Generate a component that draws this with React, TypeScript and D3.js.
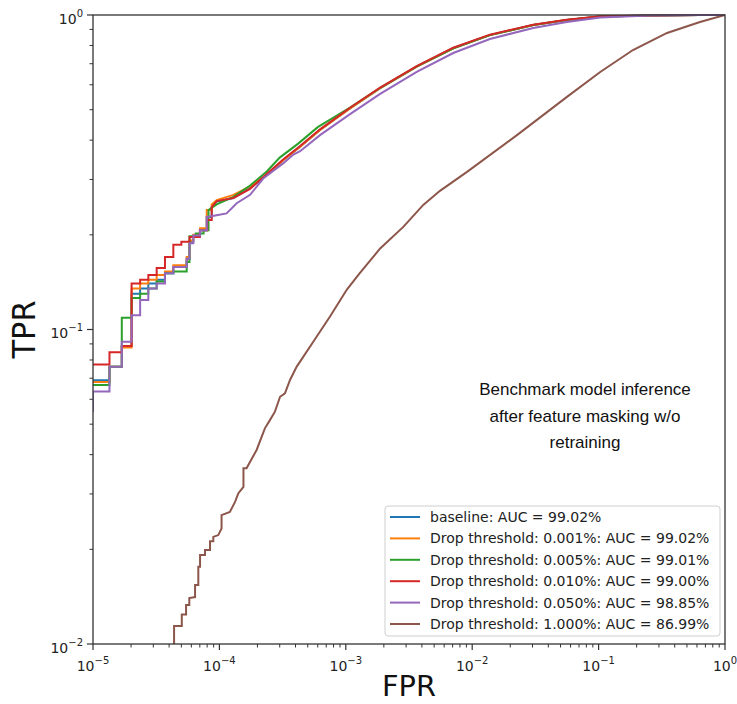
import React from "react";
import * as d3 from "d3";

const W = 737;
const H = 704;
const M = { left: 93, right: 725, top: 15, bottom: 644 };

const seriesNames = [
  "baseline: AUC = 99.02%",
  "Drop threshold: 0.001%: AUC = 99.02%",
  "Drop threshold: 0.005%: AUC = 99.01%",
  "Drop threshold: 0.010%: AUC = 99.00%",
  "Drop threshold: 0.050%: AUC = 98.85%",
  "Drop threshold: 1.000%: AUC = 86.99%",
];
const seriesColors = ["#1f77b4", "#ff7f0e", "#2ca02c", "#d62728", "#9467bd", "#8c564b"];

const upperMain: [number, number][] = [
  [2.37e-4, 0.31], [3.21e-4, 0.346], [4.35e-4, 0.381], [6.25e-4, 0.431], [1.08e-3, 0.505],
  [1.87e-3, 0.585], [3.64e-3, 0.685], [7.08e-3, 0.784], [1.38e-2, 0.863], [3.04e-2, 0.929],
  [5.6e-2, 0.964], [0.103, 0.989], [0.255, 0.997], [0.634, 1.0], [1.0, 1.0],
];

const baseline: [number, number][] = [
  [1e-5, 0.069], [1.35e-5, 0.069], [1.35e-5, 0.0762], [1.69e-5, 0.0762], [1.69e-5, 0.0886],
  [2.02e-5, 0.0886], [2.02e-5, 0.13], [2.36e-5, 0.13], [2.36e-5, 0.135], [2.74e-5, 0.135],
  [2.74e-5, 0.14], [3.19e-5, 0.14], [3.19e-5, 0.144], [3.71e-5, 0.144], [3.71e-5, 0.151],
  [4.32e-5, 0.151], [4.32e-5, 0.158], [5.51e-5, 0.158], [5.51e-5, 0.168], [5.8e-5, 0.168],
  [5.8e-5, 0.19], [6.22e-5, 0.19], [6.22e-5, 0.198], [7.03e-5, 0.198], [7.03e-5, 0.207],
  [7.94e-5, 0.207], [7.94e-5, 0.228], [8.69e-5, 0.228], [8.69e-5, 0.245], [9.52e-5, 0.255],
  [1.29e-4, 0.262], [1.75e-4, 0.282],
  ...upperMain,
];

const drop0001: [number, number][] = [
  [1e-5, 0.0681], [1.35e-5, 0.0681], [1.35e-5, 0.0762], [1.69e-5, 0.0762], [1.69e-5, 0.0876],
  [2.02e-5, 0.0876], [2.02e-5, 0.135], [2.36e-5, 0.135], [2.36e-5, 0.14], [2.74e-5, 0.14],
  [2.74e-5, 0.144], [3.19e-5, 0.144], [3.19e-5, 0.149], [3.71e-5, 0.149], [3.71e-5, 0.153],
  [4.32e-5, 0.153], [4.32e-5, 0.16], [5.51e-5, 0.16], [5.51e-5, 0.17], [5.8e-5, 0.17],
  [5.8e-5, 0.192], [6.22e-5, 0.192], [6.22e-5, 0.2], [7.03e-5, 0.2], [7.03e-5, 0.21],
  [7.94e-5, 0.21], [7.94e-5, 0.24], [8.69e-5, 0.24], [8.69e-5, 0.25], [9.52e-5, 0.258],
  [1.29e-4, 0.268], [1.75e-4, 0.285],
  ...upperMain,
];

const drop0005: [number, number][] = [
  [1e-5, 0.0666], [1.35e-5, 0.0666], [1.35e-5, 0.0762], [1.69e-5, 0.0762], [1.69e-5, 0.109],
  [2.02e-5, 0.109], [2.02e-5, 0.126], [2.36e-5, 0.126], [2.36e-5, 0.13], [2.74e-5, 0.13],
  [2.74e-5, 0.135], [3.19e-5, 0.135], [3.19e-5, 0.142], [3.71e-5, 0.142], [3.71e-5, 0.151],
  [4.32e-5, 0.151], [4.32e-5, 0.153], [5.51e-5, 0.153], [5.51e-5, 0.164], [5.8e-5, 0.164],
  [5.8e-5, 0.198], [6.5e-5, 0.198], [6.5e-5, 0.202], [7.5e-5, 0.202], [7.5e-5, 0.207],
  [8.2e-5, 0.207], [8.2e-5, 0.24], [9.52e-5, 0.25], [1.29e-4, 0.264], [1.75e-4, 0.287],
  [2.37e-4, 0.318], [3.0e-4, 0.352], [4.2e-4, 0.39], [6.0e-4, 0.44], [1.08e-3, 0.508],
  [1.87e-3, 0.587], [3.64e-3, 0.686], [7.08e-3, 0.784], [1.38e-2, 0.863], [3.04e-2, 0.929],
  [5.6e-2, 0.964], [0.103, 0.989], [0.255, 0.997], [0.634, 1.0], [1.0, 1.0],
];

const drop0010: [number, number][] = [
  [1e-5, 0.0774], [1.35e-5, 0.0774], [1.35e-5, 0.0846], [1.69e-5, 0.0846], [1.69e-5, 0.0886],
  [2.02e-5, 0.0886], [2.02e-5, 0.14], [2.36e-5, 0.14], [2.36e-5, 0.144], [2.74e-5, 0.144],
  [2.74e-5, 0.149], [3.19e-5, 0.149], [3.19e-5, 0.157], [3.71e-5, 0.157], [3.71e-5, 0.17],
  [4.32e-5, 0.17], [4.32e-5, 0.186], [5.0e-5, 0.186], [5.0e-5, 0.19], [5.8e-5, 0.19],
  [5.8e-5, 0.197], [7.0e-5, 0.197], [7.0e-5, 0.207], [8.0e-5, 0.207], [8.0e-5, 0.223],
  [8.69e-5, 0.223], [8.69e-5, 0.245], [9.52e-5, 0.256], [1.29e-4, 0.262], [1.75e-4, 0.28],
  [2.37e-4, 0.312], [3.21e-4, 0.348], [4.35e-4, 0.383], [6.25e-4, 0.433], [1.08e-3, 0.507],
  [1.87e-3, 0.588], [3.64e-3, 0.688], [7.08e-3, 0.787], [1.38e-2, 0.866], [3.04e-2, 0.931],
  [5.6e-2, 0.966], [0.103, 0.99], [0.255, 0.997], [0.634, 1.0], [1.0, 1.0],
];

const drop0050: [number, number][] = [
  [1e-5, 0.0547], [1e-5, 0.0635], [1.35e-5, 0.0635], [1.35e-5, 0.0762], [1.69e-5, 0.0762],
  [1.69e-5, 0.0914], [2.02e-5, 0.0914], [2.02e-5, 0.111], [2.36e-5, 0.111], [2.36e-5, 0.124],
  [2.74e-5, 0.124], [2.74e-5, 0.135], [3.19e-5, 0.135], [3.19e-5, 0.14], [3.71e-5, 0.14],
  [3.71e-5, 0.151], [4.32e-5, 0.151], [4.32e-5, 0.158], [5.51e-5, 0.158], [5.51e-5, 0.168],
  [5.8e-5, 0.168], [5.8e-5, 0.188], [6.22e-5, 0.188], [6.22e-5, 0.199], [7.03e-5, 0.199],
  [7.03e-5, 0.207], [7.94e-5, 0.207], [7.94e-5, 0.228], [9.52e-5, 0.231], [1.14e-4, 0.234],
  [1.37e-4, 0.252], [1.75e-4, 0.268], [2.22e-4, 0.302], [3.21e-4, 0.338], [3.85e-4, 0.36],
  [4.35e-4, 0.369], [6.25e-4, 0.415], [1.08e-3, 0.484], [1.87e-3, 0.561], [3.64e-3, 0.659],
  [7.08e-3, 0.757], [1.38e-2, 0.839], [3.04e-2, 0.909], [5.6e-2, 0.95], [0.103, 0.982],
  [0.255, 0.996], [0.634, 1.0], [1.0, 1.0],
];

const drop1000: [number, number][] = [
  [4.38e-5, 0.0095], [4.38e-5, 0.0114], [5.04e-5, 0.0114], [5.04e-5, 0.0124], [5.45e-5, 0.0124],
  [5.45e-5, 0.0133], [5.78e-5, 0.0133], [5.78e-5, 0.014], [6.42e-5, 0.0141], [6.42e-5, 0.0154],
  [6.81e-5, 0.0154], [6.81e-5, 0.0176], [7.03e-5, 0.0176], [7.03e-5, 0.0192], [7.69e-5, 0.0192],
  [7.69e-5, 0.0199], [8.43e-5, 0.0199], [8.43e-5, 0.0212], [8.95e-5, 0.0212], [8.95e-5, 0.0219],
  [9.8e-5, 0.0222], [1.04e-4, 0.0233], [1.04e-4, 0.0257], [1.21e-4, 0.0263], [1.33e-4, 0.0283],
  [1.41e-4, 0.0301], [1.55e-4, 0.0316], [1.55e-4, 0.0362], [1.64e-4, 0.0362], [1.75e-4, 0.038],
  [1.97e-4, 0.0414], [2.29e-4, 0.0485], [2.51e-4, 0.0515], [2.75e-4, 0.0548], [3.02e-4, 0.0611],
  [3.3e-4, 0.0627], [3.62e-4, 0.0691], [4.09e-4, 0.0762], [5.53e-4, 0.0914], [7.5e-4, 0.11],
  [1.02e-3, 0.134], [1.29e-3, 0.151], [1.87e-3, 0.181], [2.85e-3, 0.212], [4.1e-3, 0.249],
  [5.56e-3, 0.276], [9.1e-3, 0.317], [2.26e-2, 0.415], [5.62e-2, 0.549], [0.103, 0.659],
  [0.187, 0.774], [0.348, 0.877], [0.634, 0.95], [1.0, 1.0],
];

const allSeries = [baseline, drop0001, drop0005, drop0010, drop0050, drop1000];

const xMajor = [1e-5, 1e-4, 1e-3, 1e-2, 1e-1, 1];
const xMajorExp = ["−5", "−4", "−3", "−2", "−1", "0"];
const yMajor = [1e-2, 1e-1, 1];
const yMajorExp = ["−2", "−1", "0"];

const annotationLines = ["Benchmark model inference", "after feature masking w/o", "retraining"];

export default function App() {
  const x = d3.scaleLog().domain([1e-5, 1]).range([M.left, M.right]);
  const y = d3.scaleLog().domain([1e-2, 1]).range([M.bottom, M.top]);
  const line = d3
    .line<[number, number]>()
    .x((d) => x(d[0]))
    .y((d) => y(d[1]));

  const xMinor: number[] = [];
  for (let e = -5; e < 0; e++) for (let k = 2; k <= 9; k++) xMinor.push(k * Math.pow(10, e));
  const yMinor: number[] = [];
  for (let e = -2; e < 0; e++) for (let k = 2; k <= 9; k++) yMinor.push(k * Math.pow(10, e));

  const font = "'DejaVu Sans', sans-serif";
  const axisColor = "#333";
  const legX = 385;
  const legY = 506;
  const legRow = 21.4;

  return (
    <svg
      width={W}
      height={H}
      style={{ position: "absolute", left: 0, top: 0, background: "#fff" }}
      fontFamily={font}
    >
      <defs>
        <clipPath id="plotclip">
          <rect x={M.left} y={M.top - 2} width={M.right - M.left} height={M.bottom - M.top + 2} />
        </clipPath>
      </defs>
      <rect x={0} y={0} width={W} height={H} fill="#fff" />

      <g clipPath="url(#plotclip)">
        {allSeries.map((s, i) => (
          <path
            key={i}
            d={line(s) || ""}
            fill="none"
            stroke={seriesColors[i]}
            strokeWidth={2}
            strokeLinejoin="miter"
          />
        ))}
      </g>

      {/* spines */}
      <rect
        x={M.left}
        y={M.top}
        width={M.right - M.left}
        height={M.bottom - M.top}
        fill="none"
        stroke={axisColor}
        strokeWidth={1.3}
      />

      {/* x ticks */}
      {xMinor.map((v, i) => (
        <line key={"xm" + i} x1={x(v)} x2={x(v)} y1={M.bottom} y2={M.bottom + 3.5} stroke={axisColor} strokeWidth={1} />
      ))}
      {xMajor.map((v, i) => (
        <g key={"xM" + i}>
          <line x1={x(v)} x2={x(v)} y1={M.bottom} y2={M.bottom + 6} stroke={axisColor} strokeWidth={1.2} />
          <text x={x(v)} y={M.bottom + 27} textAnchor="middle" fontSize={14} fill="#222">
            10
            <tspan fontSize={10} dy={-7}>
              {xMajorExp[i]}
            </tspan>
          </text>
        </g>
      ))}

      {/* y ticks */}
      {yMinor.map((v, i) => (
        <line key={"ym" + i} x1={M.left - 3.5} x2={M.left} y1={y(v)} y2={y(v)} stroke={axisColor} strokeWidth={1} />
      ))}
      {yMajor.map((v, i) => (
        <g key={"yM" + i}>
          <line x1={M.left - 6} x2={M.left} y1={y(v)} y2={y(v)} stroke={axisColor} strokeWidth={1.2} />
          <text x={M.left - 10} y={y(v) + 8.5} textAnchor="end" fontSize={14} fill="#222">
            10
            <tspan fontSize={10} dy={-7}>
              {yMajorExp[i]}
            </tspan>
          </text>
        </g>
      ))}

      {/* axis labels */}
      <text x={409} y={696} textAnchor="middle" fontSize={28} textLength={54} lengthAdjust="spacingAndGlyphs" fill="#111">
        FPR
      </text>
      <text
        transform={`translate(35,${(M.top + M.bottom) / 2}) rotate(-90)`}
        textAnchor="middle"
        fontSize={32}
        textLength={58}
        lengthAdjust="spacingAndGlyphs"
        fill="#111"
      >
        TPR
      </text>

      {/* annotation */}
      {annotationLines.map((t, i) => (
        <text
          key={"an" + i}
          x={585}
          y={395 + i * 26.5}
          textAnchor="middle"
          fontSize={17}
          fontFamily="'Liberation Sans', Arial, sans-serif"
          fill="#111"
        >
          {t}
        </text>
      ))}

      {/* legend */}
      <rect x={legX} y={legY} width={335} height={130} rx={3} fill="#fff" fillOpacity={0.85} stroke="#cfcfcf" strokeWidth={1} />
      {seriesNames.map((n, i) => (
        <g key={"lg" + i}>
          <line
            x1={legX + 5}
            x2={legX + 35}
            y1={legY + 11 + i * legRow}
            y2={legY + 11 + i * legRow}
            stroke={seriesColors[i]}
            strokeWidth={2}
          />
          <text x={legX + 45} y={legY + 16 + i * legRow} fontSize={14} fill="#222">
            {n}
          </text>
        </g>
      ))}
    </svg>
  );
}
